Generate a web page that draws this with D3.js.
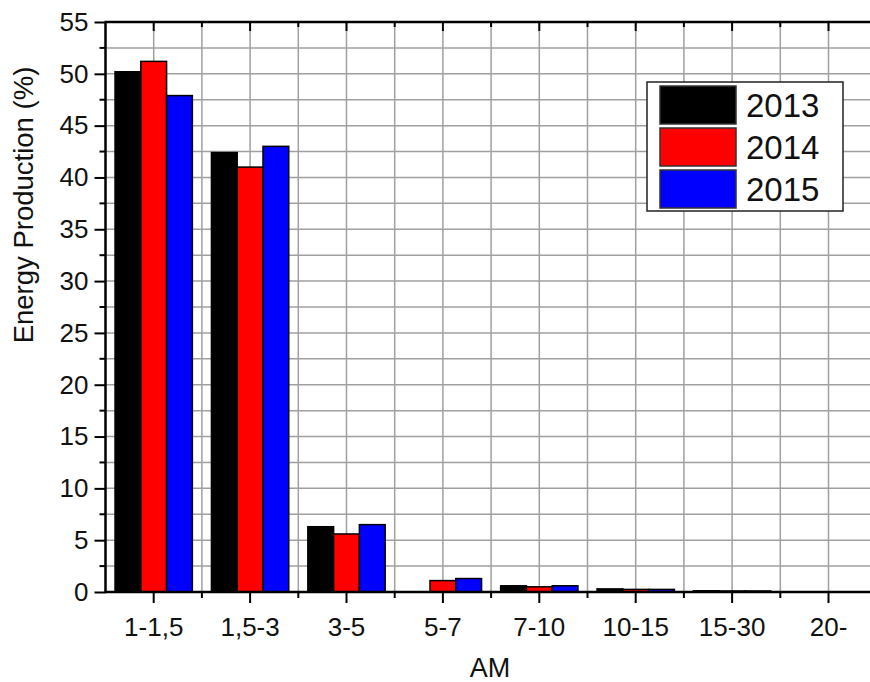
<!DOCTYPE html>
<html><head><meta charset="utf-8">
<script src="https://cdn.jsdelivr.net/npm/d3@7"></script>
<style>body{margin:0;background:#fff}svg{display:block}text{font-family:Arial,"Liberation Sans",sans-serif;fill:#111}</style>
</head><body>
<script>
const categories = ["1-1,5","1,5-3","3-5","5-7","7-10","10-15","15-30","20-"];
const series = ["2013","2014","2015"];
const v2013 = [50.2, 42.4, 6.3, 0.0, 0.6, 0.3, 0.12, 0.0];
const v2014 = [51.2, 41.0, 5.6, 1.1, 0.5, 0.25, 0.1, 0.0];
const v2015 = [47.9, 43.0, 6.5, 1.3, 0.6, 0.25, 0.1, 0.0];
const colors = ["#000000","#ff0000","#0000ff"];
const yTicks = [0,5,10,15,20,25,30,35,40,45,50,55];

const W=870,H=682;
const m={l:105.5,t:22,b:592};
const FONT="Arial, 'Liberation Sans', sans-serif";
const x0=d3.scaleBand().domain(categories).range([m.l,m.l+8*96.4]).paddingInner(0).paddingOuter(0);
const x1=d3.scaleBand().domain(series).range([0,x0.bandwidth()]).paddingInner(0).paddingOuter(0.37).align(0.5);
const y=d3.scaleLinear().domain([0,55]).range([m.b,m.t]);
const svg=d3.select("body").append("svg").attr("width",W).attr("height",H);
const right=W+5;

// grid
const g=svg.append("g");
const hMinor=d3.range(0,55.01,2.5);
g.selectAll(".hg").data(hMinor.filter(v=>v>0)).join("line")
 .attr("x1",m.l).attr("x2",right).attr("y1",d=>y(d)).attr("y2",d=>y(d))
 .attr("stroke","#a0a0a0").attr("stroke-width",1.5);
const vPos=[];
categories.forEach(c=>{vPos.push(x0(c));vPos.push(x0(c)+x0.bandwidth()/2);});
g.selectAll(".vg").data(vPos.filter(p=>p>m.l+1)).join("line")
 .attr("x1",d=>d).attr("x2",d=>d).attr("y1",m.t).attr("y2",m.b)
 .attr("stroke","#a0a0a0").attr("stroke-width",1.5);

// bars
const data=categories.map((c,i)=>({c,vals:[v2013[i],v2014[i],v2015[i]]}));
const grp=svg.append("g").selectAll("g").data(data).join("g").attr("transform",d=>`translate(${x0(d.c)},0)`);
grp.selectAll("rect").data(d=>d.vals.map((v,j)=>({v,s:series[j],j})).filter(e=>e.v>0)).join("rect")
 .attr("x",d=>x1(d.s)).attr("width",x1.bandwidth())
 .attr("y",d=>y(d.v)).attr("height",d=>y(0)-y(d.v))
 .attr("fill",d=>colors[d.j]).attr("stroke","#000").attr("stroke-width",1.5);

// axes
const ax=svg.append("g").attr("stroke","#000");
ax.append("line").attr("x1",m.l).attr("x2",m.l).attr("y1",m.t).attr("y2",m.b).attr("stroke-width",2.5);
ax.append("line").attr("x1",m.l-1).attr("x2",right).attr("y1",m.b).attr("y2",m.b).attr("stroke-width",2.5);
ax.append("line").attr("x1",m.l-1).attr("x2",right).attr("y1",m.t).attr("y2",m.t).attr("stroke-width",2.5);

// y ticks
const yAxis=d3.axisLeft(y).tickValues(yTicks).tickSize(11).tickPadding(6);
const ya=svg.append("g").attr("transform",`translate(${m.l},0)`).call(yAxis);
ya.select(".domain").remove();
ya.selectAll("line").attr("stroke","#000").attr("stroke-width",2);
ya.selectAll("text").attr("font-size",26).attr("fill","#111").style("font-family",FONT);
svg.append("g").selectAll("line").data(yTicks.slice(0,-1).map(v=>v+2.5)).join("line")
 .attr("x1",m.l-6).attr("x2",m.l).attr("y1",d=>y(d)).attr("y2",d=>y(d)).attr("stroke","#000").attr("stroke-width",2);

// x ticks
const xAxis=d3.axisBottom(x0).tickSize(11).tickPadding(15);
const xa=svg.append("g").attr("transform",`translate(0,${m.b})`).call(xAxis);
xa.select(".domain").remove();
xa.selectAll("line").attr("stroke","#000").attr("stroke-width",2);
xa.selectAll("text").attr("font-size",26).attr("fill","#111").style("font-family",FONT);
svg.append("g").selectAll("line").data(categories.slice(1)).join("line")
 .attr("x1",d=>x0(d)).attr("x2",d=>x0(d)).attr("y1",m.b).attr("y2",m.b+6).attr("stroke","#000").attr("stroke-width",2);
// top ticks (inward)
svg.append("g").selectAll("line").data(categories).join("line")
 .attr("x1",d=>x0(d)+x0.bandwidth()/2).attr("x2",d=>x0(d)+x0.bandwidth()/2).attr("y1",m.t).attr("y2",m.t+9).attr("stroke","#000").attr("stroke-width",2);
svg.append("g").selectAll("line").data(categories.slice(1)).join("line")
 .attr("x1",d=>x0(d)).attr("x2",d=>x0(d)).attr("y1",m.t).attr("y2",m.t+5).attr("stroke","#000").attr("stroke-width",2);

// axis titles
svg.append("text").attr("x",490).attr("y",677).attr("text-anchor","middle").attr("font-size",27).text("AM");
svg.append("text").attr("transform",`translate(33,205) rotate(-90)`).attr("text-anchor","middle").attr("font-size",27.5).text("Energy Production (%)");

// legend
const lg=svg.append("g").attr("transform","translate(647,82)");
lg.append("rect").attr("width",196).attr("height",129).attr("fill","#fff").attr("stroke","#222").attr("stroke-width",1.5);
series.forEach((s,i)=>{
 lg.append("rect").attr("x",13).attr("y",4+i*42).attr("width",76).attr("height",38).attr("fill",colors[i]).attr("stroke","#333").attr("stroke-width",1.5);
 lg.append("text").attr("x",99).attr("y",35+i*42).attr("font-size",33).text(s);
});
</script>
</body></html>
